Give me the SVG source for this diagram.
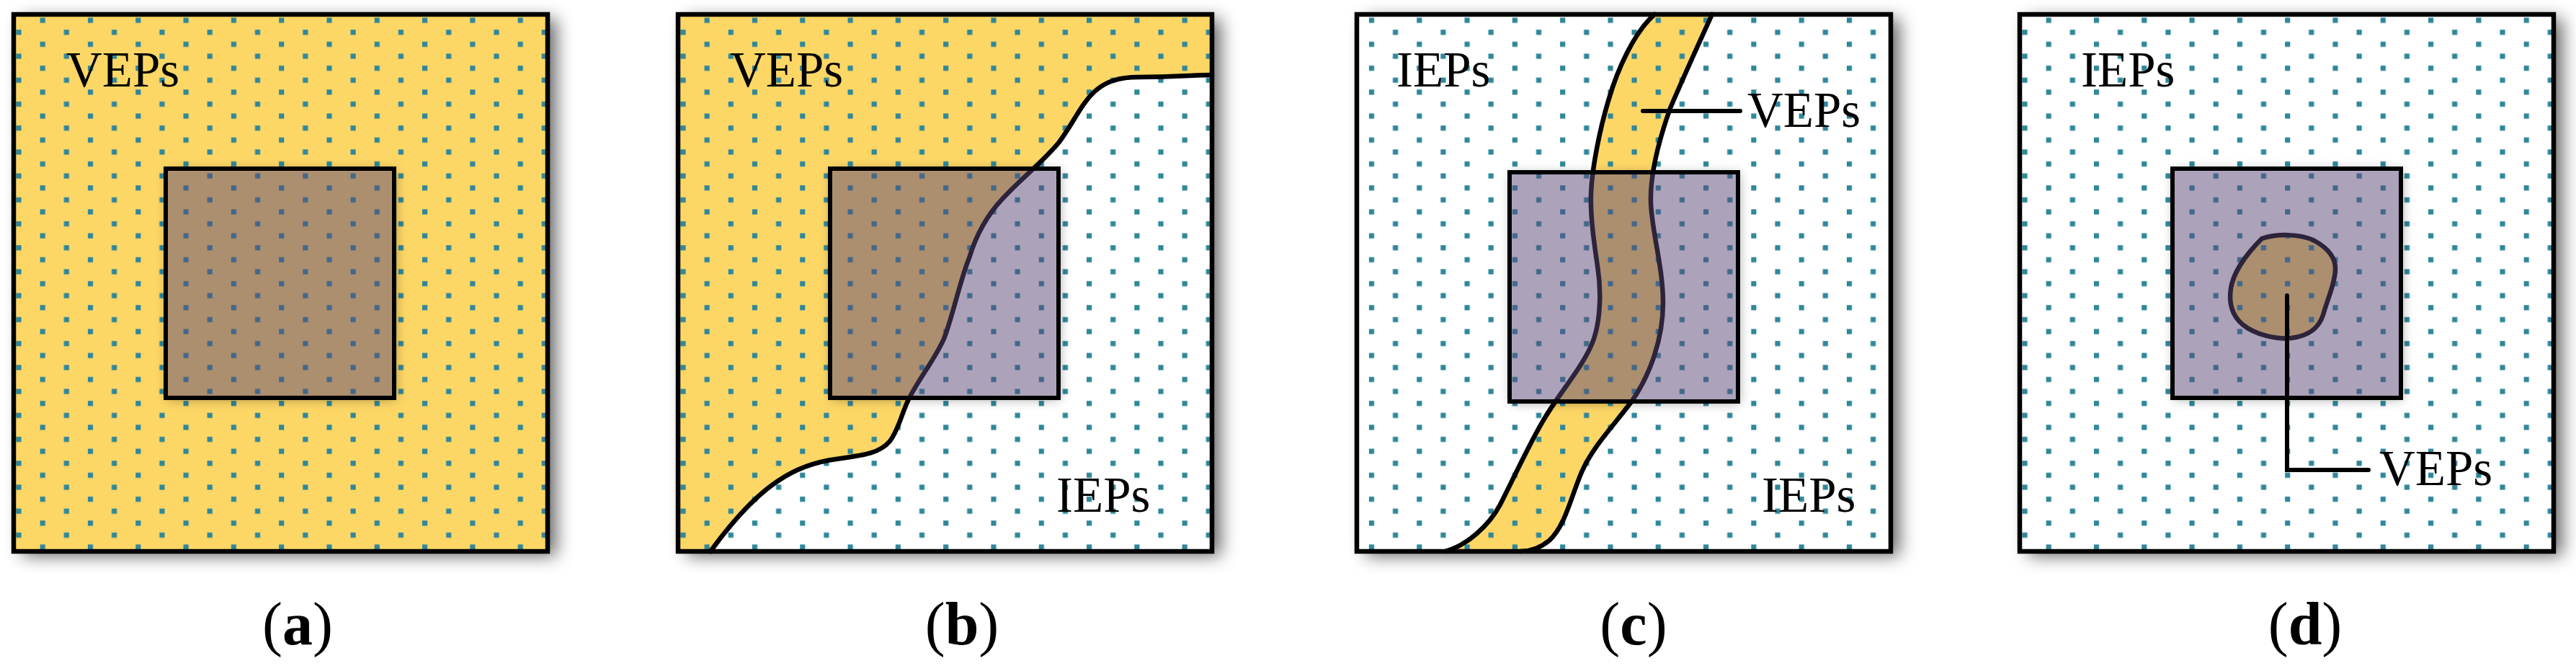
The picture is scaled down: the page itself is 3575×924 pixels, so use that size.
<svg xmlns="http://www.w3.org/2000/svg" width="3575" height="924" viewBox="0 0 3575 924">
<style>
.bg{fill:#ffffff}
.yel{fill:#FDD766}
.frame{fill:none;stroke:#000;stroke-width:6.5;stroke-linejoin:miter}
.inner{fill:#594777;fill-opacity:0.5;stroke:#000;stroke-width:6}
.curve{fill:none;stroke:#000;stroke-width:6.5;stroke-linejoin:round;stroke-linecap:round}
.lead{fill:none;stroke:#000;stroke-width:6;stroke-linecap:round}
.lbl{font-family:"Liberation Serif","Times New Roman",serif;font-size:69px;fill:#000}
.cap{font-family:"Liberation Serif","Times New Roman",serif;font-size:84px;fill:#000;text-anchor:middle}
.dot{fill:#2F879A}
.ish{fill:#000;opacity:0.35}
</style>
<defs>
<filter id="fshadow" x="-10%" y="-10%" width="125%" height="125%">
<feGaussianBlur stdDeviation="12"/>
</filter>
<filter id="ishadow" x="-20%" y="-20%" width="140%" height="140%">
<feGaussianBlur stdDeviation="8"/>
</filter>
<pattern id="pa" patternUnits="userSpaceOnUse" x="19" y="0" width="66.3" height="33.22">
<rect class="dot" x="3.4" y="8" width="7.2" height="7.2"/>
<rect class="dot" x="36.6" y="24.6" width="7.2" height="7.2"/>
</pattern>
<pattern id="pb" href="#pa" x="941"/>
<pattern id="pc" href="#pa" x="1863.3"/>
<pattern id="pd" href="#pa" x="2803"/>
<clipPath id="ca"><path clip-rule="evenodd" d="M19,20 h741 v745 h-741 Z M230,234 h317 v318 h-317 Z"/></clipPath>
<clipPath id="cb"><path clip-rule="evenodd" d="M941,20 h741 v745 h-741 Z M1152,234 h317 v318 h-317 Z"/></clipPath>
<clipPath id="cc"><path clip-rule="evenodd" d="M1883,20 h741 v745 h-741 Z M2095,239 h317 v318 h-317 Z"/></clipPath>
<clipPath id="cd"><path clip-rule="evenodd" d="M2803,20 h741 v745 h-741 Z M3015,234 h317 v318 h-317 Z"/></clipPath>
</defs>

<g id="panel-a">
<rect x="31" y="26" width="741" height="745" fill="#000" opacity="0.6" filter="url(#fshadow)"/>
<rect class="yel" x="19" y="20" width="741" height="745"/>
<rect x="19" y="20" width="741" height="745" fill="url(#pa)"/>
<g clip-path="url(#ca)"><rect class="ish" x="232" y="236" width="317" height="318" filter="url(#ishadow)"/></g>
<rect class="inner" x="230" y="234" width="317" height="318"/>
<rect class="frame" x="19" y="20" width="741" height="745"/>
<text class="lbl" x="92" y="120">VEPs</text>
</g>

<g id="panel-b">
<rect x="953" y="26" width="741" height="745" fill="#000" opacity="0.6" filter="url(#fshadow)"/>
<rect class="yel" x="941" y="20" width="741" height="745"/>
<path class="bg" d="M986,765 C1010,732 1045,690 1080,667 C1105,650 1130,641 1160,637 C1195,632 1220,630 1235,612 C1248,595 1252,570 1263,550 C1278,522 1298,497 1310,470 C1322,440 1332,390 1345,358 C1355,325 1370,298 1392,275 C1420,245 1450,222 1470,197 C1490,170 1500,145 1518,128 C1535,112 1555,107 1580,107 C1630,107 1660,104 1682,104 L1682,765 Z"/>
<rect x="941" y="20" width="741" height="745" fill="url(#pb)"/>
<path class="curve" d="M986,765 C1010,732 1045,690 1080,667 C1105,650 1130,641 1160,637 C1195,632 1220,630 1235,612 C1248,595 1252,570 1263,550 C1278,522 1298,497 1310,470 C1322,440 1332,390 1345,358 C1355,325 1370,298 1392,275 C1420,245 1450,222 1470,197 C1490,170 1500,145 1518,128 C1535,112 1555,107 1580,107 C1630,107 1660,104 1682,104"/>
<g clip-path="url(#cb)"><rect class="ish" x="1154" y="236" width="317" height="318" filter="url(#ishadow)"/></g>
<rect class="inner" x="1152" y="234" width="317" height="318"/>
<rect class="frame" x="941" y="20" width="741" height="745"/>
<text class="lbl" x="1013" y="120">VEPs</text>
<text class="lbl" x="1466" y="710">IEPs</text>
</g>

<g id="panel-c">
<rect x="1895" y="26" width="741" height="745" fill="#000" opacity="0.6" filter="url(#fshadow)"/>
<rect class="bg" x="1883" y="20" width="741" height="745"/>
<path class="yel" d="M2006,765 C2035,757 2066,730 2082,700 C2100,665 2125,610 2145,578 C2168,540 2200,505 2212,470 C2222,440 2222,400 2217,369 C2212,335 2207,300 2208,270 C2209,235 2220,180 2232,140 C2245,95 2268,45 2296,20 L2376,20 C2360,55 2335,110 2318,150 C2302,195 2290,240 2291,280 C2292,320 2308,370 2308,420 C2308,470 2290,520 2265,556 C2240,590 2210,620 2195,655 C2180,690 2172,730 2150,750 C2135,762 2120,765 2110,765 Z"/>
<rect x="1883" y="20" width="741" height="745" fill="url(#pc)"/>
<path class="curve" d="M2006,765 C2035,757 2066,730 2082,700 C2100,665 2125,610 2145,578 C2168,540 2200,505 2212,470 C2222,440 2222,400 2217,369 C2212,335 2207,300 2208,270 C2209,235 2220,180 2232,140 C2245,95 2268,45 2296,20"/>
<path class="curve" d="M2376,20 C2360,55 2335,110 2318,150 C2302,195 2290,240 2291,280 C2292,320 2308,370 2308,420 C2308,470 2290,520 2265,556 C2240,590 2210,620 2195,655 C2180,690 2172,730 2150,750 C2135,762 2120,765 2110,765"/>
<g clip-path="url(#cc)"><rect class="ish" x="2097" y="241" width="317" height="318" filter="url(#ishadow)"/></g>
<rect class="inner" x="2095" y="239" width="317" height="318"/>
<rect class="frame" x="1883" y="20" width="741" height="745"/>
<text class="lbl" x="1938" y="120">IEPs</text>
<text class="lbl" x="2425" y="176">VEPs</text>
<text class="lbl" x="2445" y="710">IEPs</text>
</g>

<g id="panel-d">
<rect x="2815" y="26" width="741" height="745" fill="#000" opacity="0.6" filter="url(#fshadow)"/>
<rect class="bg" x="2803" y="20" width="741" height="745"/>
<path class="yel" d="M3139,331 C3160,324 3192,324 3212,334 C3232,345 3242,358 3241,375 C3240,395 3230,415 3224,437 C3218,455 3205,466 3180,469 C3160,471 3130,465 3112,450 C3098,438 3093,420 3096,400 C3099,380 3115,355 3139,331 Z"/>
<rect x="2803" y="20" width="741" height="745" fill="url(#pd)"/>
<path class="curve" d="M3139,331 C3160,324 3192,324 3212,334 C3232,345 3242,358 3241,375 C3240,395 3230,415 3224,437 C3218,455 3205,466 3180,469 C3160,471 3130,465 3112,450 C3098,438 3093,420 3096,400 C3099,380 3115,355 3139,331 Z"/>
<g clip-path="url(#cd)"><rect class="ish" x="3017" y="236" width="317" height="318" filter="url(#ishadow)"/></g>
<rect class="inner" x="3015" y="234" width="317" height="318"/>
<rect class="frame" x="2803" y="20" width="741" height="745"/>
<text class="lbl" x="2888" y="120">IEPs</text>
<text class="lbl" x="3302" y="673">VEPs</text>
</g>

<g id="connectors">
<path class="lead" d="M2280,154 H2415"/>
<path class="lead" d="M3174,410 V652 H3287"/>
</g>

<g id="captions">
<text class="cap" x="413" y="894">(<tspan font-weight="bold">a</tspan>)</text>
<text class="cap" x="1335" y="894">(<tspan font-weight="bold">b</tspan>)</text>
<text class="cap" x="2267" y="894">(<tspan font-weight="bold">c</tspan>)</text>
<text class="cap" x="3199" y="894">(<tspan font-weight="bold">d</tspan>)</text>
</g>
</svg>
